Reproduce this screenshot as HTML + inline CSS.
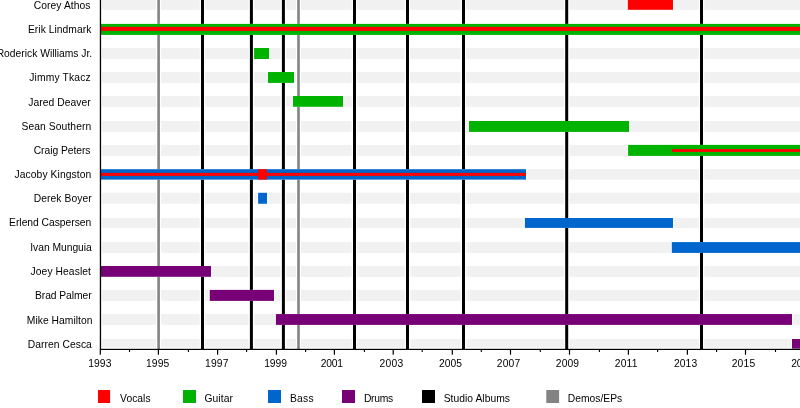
<!DOCTYPE html>
<html><head><meta charset="utf-8"><title>Timeline</title><style>
html,body{margin:0;padding:0;background:#fff;width:800px;height:408px;overflow:hidden}
svg{display:block;will-change:transform}
text{font-family:"Liberation Sans",Arial,Helvetica,sans-serif;font-size:10.3px;fill:#000}
</style></head><body>
<svg width="800" height="408" viewBox="0 0 800 408">
<rect x="0" y="0" width="800" height="408" fill="#fff"/>
<g fill="#f1f1f1">
<rect x="101.8" y="-1.1" width="698.2" height="10.9"/>
<rect x="101.8" y="23.9" width="698.2" height="11"/>
<rect x="101.8" y="48" width="698.2" height="11"/>
<rect x="101.8" y="72.04" width="698.2" height="10.86"/>
<rect x="101.8" y="96" width="698.2" height="10.8"/>
<rect x="101.8" y="121" width="698.2" height="10.9"/>
<rect x="101.8" y="144.9" width="698.2" height="11"/>
<rect x="101.8" y="169.2" width="698.2" height="10.4"/>
<rect x="101.8" y="192.8" width="698.2" height="10.95"/>
<rect x="101.8" y="218" width="698.2" height="9.9"/>
<rect x="101.8" y="242.1" width="698.2" height="10.8"/>
<rect x="101.8" y="266" width="698.2" height="10.8"/>
<rect x="101.8" y="289.9" width="698.2" height="11"/>
<rect x="101.8" y="314.06" width="698.2" height="10.84"/>
<rect x="101.8" y="339" width="698.2" height="8.7"/>
</g>
<g fill="#fff">
<rect x="199.7" y="0" width="5.6" height="349"/>
<rect x="248.6" y="0" width="5.6" height="349"/>
<rect x="280.6" y="0" width="5.6" height="349"/>
<rect x="351.7" y="0" width="5.6" height="349"/>
<rect x="404.7" y="0" width="5.6" height="349"/>
<rect x="460.7" y="0" width="5.6" height="349"/>
<rect x="563.9" y="0" width="5.6" height="349"/>
<rect x="698.7" y="0" width="5.6" height="349"/>
<rect x="156.1" y="0" width="5" height="349"/>
<rect x="296" y="0" width="5" height="349"/>
</g>
<g fill="#000">
<rect x="201" y="0" width="3" height="349"/>
<rect x="249.9" y="0" width="3" height="349"/>
<rect x="281.9" y="0" width="3" height="349"/>
<rect x="353" y="0" width="3" height="349"/>
<rect x="406" y="0" width="3" height="349"/>
<rect x="462" y="0" width="3" height="349"/>
<rect x="565.2" y="0" width="3" height="349"/>
<rect x="700" y="0" width="3" height="349"/>
</g>
<g fill="#838383">
<rect x="157.3" y="0" width="2.6" height="349"/>
<rect x="297.2" y="0" width="2.6" height="349"/>
</g>
<g fill="#fff">
<rect x="626.7" y="-1.1" width="47.4" height="10.9"/>
<rect x="99.8" y="23.9" width="701.3" height="11"/>
<rect x="253" y="48" width="17.1" height="11"/>
<rect x="266.8" y="72.04" width="28.3" height="10.86"/>
<rect x="291.9" y="96" width="52.2" height="10.8"/>
<rect x="467.9" y="121" width="162.2" height="10.9"/>
<rect x="627" y="144.9" width="174.1" height="11"/>
<rect x="99.8" y="169.2" width="427.3" height="10.4"/>
<rect x="257" y="192.8" width="11.1" height="10.95"/>
<rect x="523.8" y="218" width="150.3" height="9.9"/>
<rect x="670.7" y="242.1" width="130.4" height="10.8"/>
<rect x="99.8" y="266" width="112.3" height="10.8"/>
<rect x="208.65" y="289.9" width="66.45" height="11"/>
<rect x="274.8" y="314.06" width="518.3" height="10.84"/>
<rect x="790.9" y="339" width="10.2" height="9.6"/>
</g>
<rect x="627.8" y="-1.1" width="45.2" height="10.9" fill="#ff0000"/>
<rect x="100.9" y="23.9" width="699.1" height="11" fill="#00b300"/>
<rect x="254.1" y="48" width="14.9" height="11" fill="#00b300"/>
<rect x="267.9" y="72.04" width="26.1" height="10.86" fill="#00b300"/>
<rect x="293" y="96" width="50" height="10.8" fill="#00b300"/>
<rect x="469" y="121" width="160" height="10.9" fill="#00b300"/>
<rect x="628.1" y="144.9" width="171.9" height="11" fill="#00b300"/>
<rect x="100.9" y="169.2" width="425.1" height="10.4" fill="#0065cc"/>
<rect x="258.1" y="192.8" width="8.9" height="10.95" fill="#0065cc"/>
<rect x="524.9" y="218" width="148.1" height="9.9" fill="#0065cc"/>
<rect x="671.8" y="242.1" width="128.2" height="10.8" fill="#0065cc"/>
<rect x="100.9" y="266" width="110.1" height="10.8" fill="#770077"/>
<rect x="209.75" y="289.9" width="64.25" height="11" fill="#770077"/>
<rect x="275.9" y="314.06" width="516.1" height="10.84" fill="#770077"/>
<rect x="792" y="339" width="8" height="9.6" fill="#770077"/>
<rect x="100.9" y="26.8" width="699.1" height="4.1" fill="#ff0000"/>
<rect x="671.9" y="149.1" width="128.1" height="2.8" fill="#ff0000"/>
<rect x="100.9" y="172.9" width="425.1" height="3" fill="#ff0000"/>
<rect x="258.1" y="169.2" width="8.9" height="10.4" fill="#ff0000"/>
<rect x="99.8" y="0" width="1.3" height="350" fill="#000"/>
<rect x="99.8" y="348.8" width="700.2" height="1.2" fill="#000"/>
<rect x="99.7" y="350" width="1.2" height="4.7" fill="#000"/>
<rect x="128.95" y="350" width="1.1" height="2" fill="#000"/>
<rect x="157.8" y="350" width="1.2" height="4.7" fill="#000"/>
<rect x="187.85" y="350" width="1.1" height="2" fill="#000"/>
<rect x="217" y="350" width="1.2" height="4.7" fill="#000"/>
<rect x="246.05" y="350" width="1.1" height="2" fill="#000"/>
<rect x="275.8" y="350" width="1.2" height="4.7" fill="#000"/>
<rect x="305.05" y="350" width="1.1" height="2" fill="#000"/>
<rect x="333.8" y="350" width="1.2" height="4.7" fill="#000"/>
<rect x="363.85" y="350" width="1.1" height="2" fill="#000"/>
<rect x="392.6" y="350" width="1.2" height="4.7" fill="#000"/>
<rect x="421.65" y="350" width="1.1" height="2" fill="#000"/>
<rect x="451.7" y="350" width="1.2" height="4.7" fill="#000"/>
<rect x="480.75" y="350" width="1.1" height="2" fill="#000"/>
<rect x="509.9" y="350" width="1.2" height="4.7" fill="#000"/>
<rect x="539.75" y="350" width="1.1" height="2" fill="#000"/>
<rect x="568.9" y="350" width="1.2" height="4.7" fill="#000"/>
<rect x="598.85" y="350" width="1.1" height="2" fill="#000"/>
<rect x="627.8" y="350" width="1.2" height="4.7" fill="#000"/>
<rect x="657.05" y="350" width="1.1" height="2" fill="#000"/>
<rect x="686.8" y="350" width="1.2" height="4.7" fill="#000"/>
<rect x="716.05" y="350" width="1.1" height="2" fill="#000"/>
<rect x="744.9" y="350" width="1.2" height="4.7" fill="#000"/>
<rect x="774.95" y="350" width="1.1" height="2" fill="#000"/>
<text x="88.19" y="366.6" textLength="23.19" lengthAdjust="spacing">1993</text>
<text x="145.99" y="366.6" textLength="23.25" lengthAdjust="spacing">1995</text>
<text x="205.09" y="366.6" textLength="23.41" lengthAdjust="spacing">1997</text>
<text x="264.13" y="366.6" textLength="22.96" lengthAdjust="spacing">1999</text>
<text x="320.77" y="366.6" textLength="22.23" lengthAdjust="spacing">2001</text>
<text x="379.62" y="366.6" textLength="23.53" lengthAdjust="spacing">2003</text>
<text x="439.02" y="366.6" textLength="22.91" lengthAdjust="spacing">2005</text>
<text x="496.84" y="366.6" textLength="23.35" lengthAdjust="spacing">2007</text>
<text x="555.87" y="366.6" textLength="23.13" lengthAdjust="spacing">2009</text>
<text x="614.76" y="366.6" textLength="22.62" lengthAdjust="spacing">2011</text>
<text x="674.02" y="366.6" textLength="23.13" lengthAdjust="spacing">2013</text>
<text x="731.64" y="366.6" textLength="23.66" lengthAdjust="spacing">2015</text>
<text x="802.6" y="366.6" text-anchor="middle">2017</text>
<text x="33.86" y="8.8" textLength="56.56" lengthAdjust="spacing">Corey Athos</text>
<text x="27.94" y="32.8" textLength="63.39" lengthAdjust="spacing">Erik Lindmark</text>
<text x="-3.32" y="56.9" textLength="95.55" lengthAdjust="spacing">Roderick Williams Jr.</text>
<text x="29.28" y="81" textLength="61.42" lengthAdjust="spacing">Jimmy Tkacz</text>
<text x="28.34" y="106" textLength="62.28" lengthAdjust="spacing">Jared Deaver</text>
<text x="21.53" y="130" textLength="69.67" lengthAdjust="spacing">Sean Southern</text>
<text x="33.72" y="153.75" textLength="56.7" lengthAdjust="spacing">Craig Peters</text>
<text x="14.53" y="177.75" textLength="76.67" lengthAdjust="spacing">Jacoby Kingston</text>
<text x="33.78" y="201.9" textLength="57.84" lengthAdjust="spacing">Derek Boyer</text>
<text x="9.11" y="226.25" textLength="82.09" lengthAdjust="spacing">Erlend Caspersen</text>
<text x="30.22" y="251" textLength="61.6" lengthAdjust="spacing">Ivan Munguia</text>
<text x="30.56" y="275" textLength="60.38" lengthAdjust="spacing">Joey Heaslet</text>
<text x="34.96" y="298.75" textLength="56.66" lengthAdjust="spacing">Brad Palmer</text>
<text x="26.81" y="323.75" textLength="65.69" lengthAdjust="spacing">Mike Hamilton</text>
<text x="27.71" y="347.9" textLength="64.11" lengthAdjust="spacing">Darren Cesca</text>
<rect x="98" y="390" width="12.1" height="13" fill="#ff0000"/>
<text x="120.12" y="401.7" textLength="30.46" lengthAdjust="spacing">Vocals</text>
<rect x="183" y="390" width="13" height="13" fill="#00b300"/>
<text x="204.44" y="401.7" textLength="28.49" lengthAdjust="spacing">Guitar</text>
<rect x="268" y="390" width="13" height="13" fill="#0065cc"/>
<text x="289.99" y="401.7" textLength="23.55" lengthAdjust="spacing">Bass</text>
<rect x="342" y="390" width="13" height="13" fill="#770077"/>
<text x="363.96" y="401.7" textLength="29.24" lengthAdjust="spacing">Drums</text>
<rect x="422" y="390" width="13" height="13" fill="#000"/>
<text x="443.68" y="401.7" textLength="66.32" lengthAdjust="spacing">Studio Albums</text>
<rect x="546.3" y="390" width="12.8" height="13" fill="#838383"/>
<text x="567.79" y="401.7" textLength="54.46" lengthAdjust="spacing">Demos/EPs</text>
</svg>
</body></html>
